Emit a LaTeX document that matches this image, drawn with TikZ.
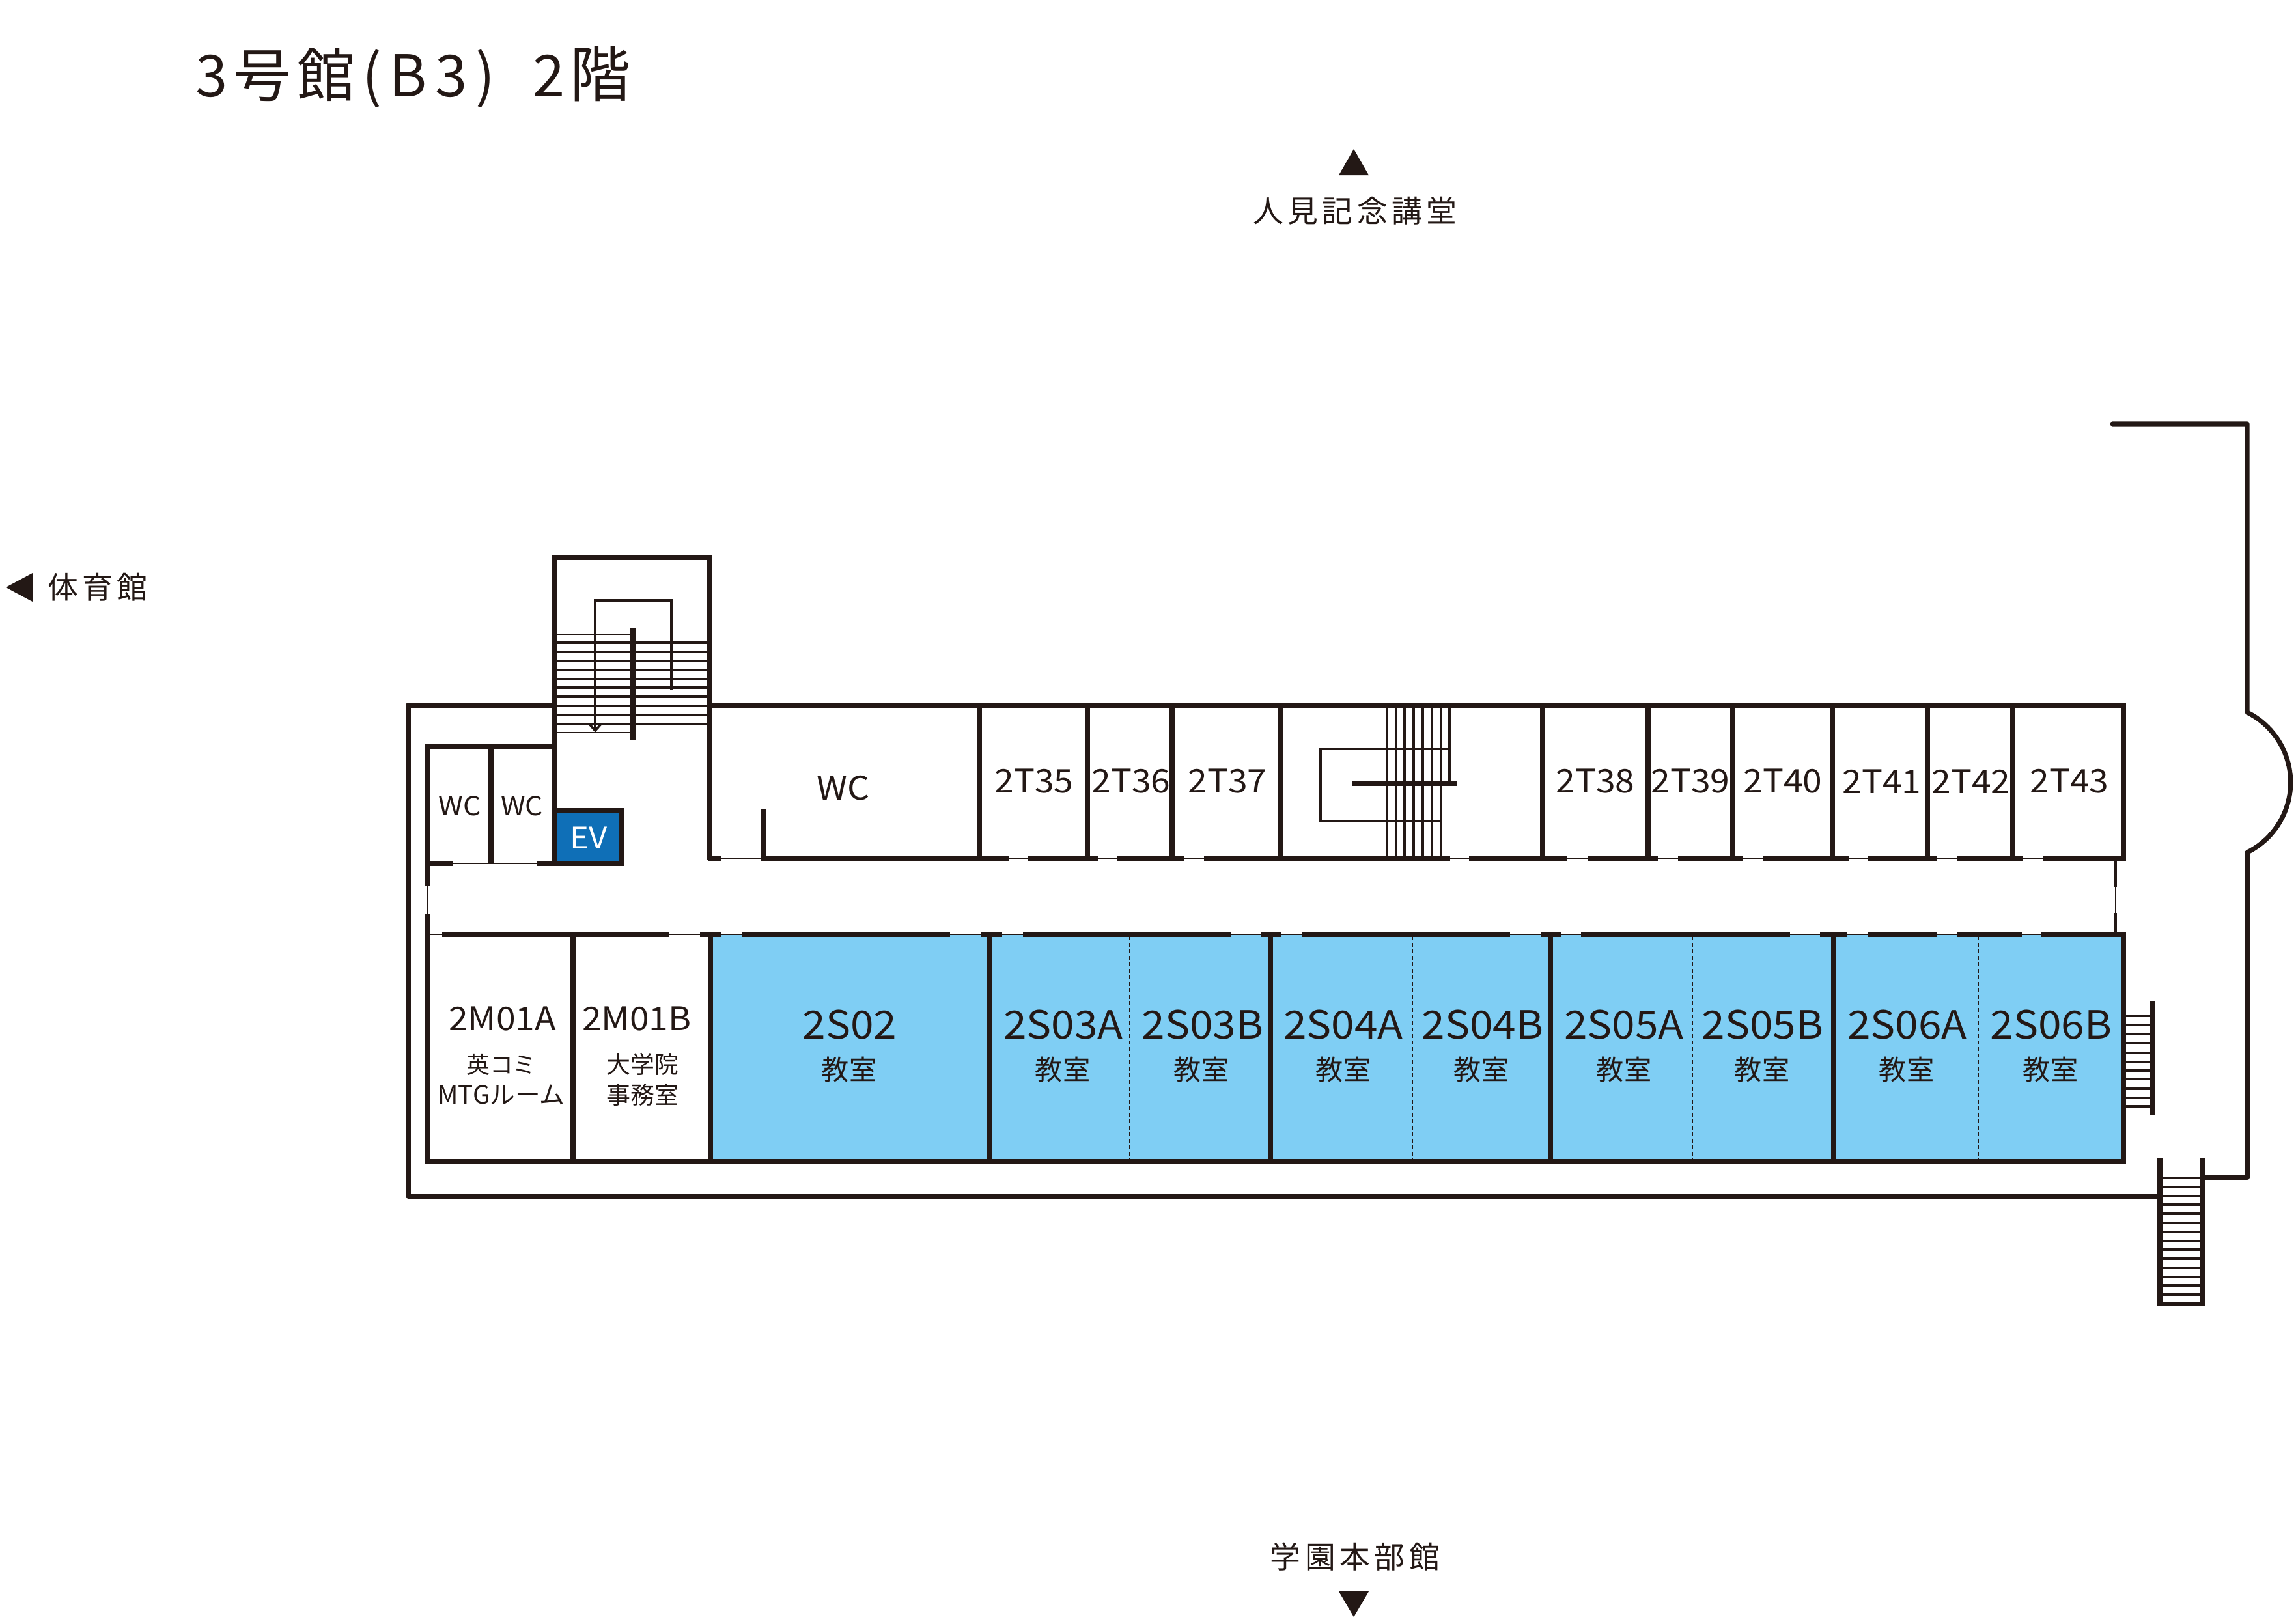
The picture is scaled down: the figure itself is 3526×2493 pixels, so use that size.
\documentclass[tikz,border=0pt]{standalone}
\usepackage{fontspec}
\setmainfont{Noto Sans CJK JP}
\newfontfamily\wideF[FakeStretch=1.07]{Noto Sans CJK JP}
\newfontfamily\titleF[LetterSpace=10]{Noto Sans CJK JP}
\newfontfamily\trackF[LetterSpace=14]{Noto Sans CJK JP}
\definecolor{ink}{HTML}{231815}
\definecolor{room}{HTML}{7FCEF4}
\definecolor{evb}{HTML}{0F6FB7}
\tikzset{
  x=0.01cm,y=-0.01cm,
  wallH/.style={draw=ink,line width=2.25pt},
  wallV/.style={draw=ink,line width=2.05pt},
  thinw/.style={draw=ink,line width=0.7pt},
  tread/.style={draw=ink,line width=1pt},
  treadThin/.style={draw=ink,line width=0.7pt},
  part/.style={draw=ink,line width=0.75pt,dash pattern=on 1.7pt off 1.15pt},
  lab/.style={text=ink,inner sep=0pt,font=\wideF\fontsize{#1}{#1}\selectfont},
  lab/.default=14.2,
  jp/.style={text=ink,inner sep=0pt,font=\fontsize{#1}{#1}\selectfont},
  dest/.style={text=ink,inner sep=0pt,font=\trackF\fontsize{13.3}{14}\selectfont},
  tri/.style={fill=ink,draw=none}
}
\begin{document}
\begin{tikzpicture}
\useasboundingbox (0,0) rectangle (3526,2493);
% blue rooms
\fill[room] (1091,1435) rectangle (3261,1784);
% title and destinations
\node[text=ink,inner sep=0pt,anchor=west,font=\titleF\fontsize{25.2}{26}\selectfont] (title) at (300,119) {3号館\kern3.2pt(\kern3.2pt B\kern3.8pt 3\kern3.6pt)\kern8.2pt{} 2\kern2.2pt {\fontsize{26.5}{26}\selectfont 階}};
\fill[tri] (2079,229) -- (2102,269) -- (2056,269) -- cycle;
\node[dest] (north) at (2081,324) {人見記念講堂};
\fill[tri] (2079,2483) -- (2102,2444) -- (2056,2444) -- cycle;
\node[dest] (south) at (2081,2391) {学園本部館};
\fill[tri] (9,902) -- (50,880) -- (50,924) -- cycle;
\node[dest] (west) at (150,902) {体育館};
% outer wall
\draw[wallV,line join=round] (851,1083) -- (627,1083) -- (627,1837) -- (3317,1837);
\draw[wallH] (1090,1083) -- (3261,1083);
\draw[wallV] (3261,1079) -- (3261,1321);
% right wing
\draw[wallV,line join=round,line cap=round] (3244,651) -- (3451,651) -- (3451,1094)
  .. controls (3491.7,1114.1) and (3517.7,1155.8) .. (3517.7,1201.5)
  .. controls (3517.7,1247.2) and (3491.7,1288.9) .. (3451,1309);
\draw[wallV,line join=round] (3451,1309) -- (3451,1808.7) -- (3382,1808.7);
% stair tower
\foreach \y in {987,1001,1015,1029,1042.5,1056,1070,1084,1097.5}
  \draw[tread] (851,\y) -- (1090,\y);
\draw[treadThin] (851,974) -- (972,974);
\draw[treadThin] (851,1112) -- (1090,1112);
\draw[treadThin] (851,1125) -- (972,1125);
\draw[wallV] (851,1326) -- (851,856) -- (1090,856) -- (1090,1321);
\draw[wallV] (972,964) -- (972,1137);
\draw[treadThin,line width=1pt] (914,1122) -- (914,922) -- (1031,922) -- (1031,1060);
\draw[treadThin,line width=1pt] (905,1112) -- (914,1122) -- (923,1112);
% WC block
\draw[thinw] (657,1326) -- (851,1326);
\draw[wallH] (657,1326) -- (695,1326);
\draw[wallH] (825,1326) -- (851,1326);
\draw[wallV] (657,1361) -- (657,1146) -- (851,1146);
\draw[wallV] (754,1146) -- (754,1326);
\draw[thinw] (657,1361) -- (657,1403);
\draw[wallV] (657,1403) -- (657,1435);
% EV
\draw[wallV,fill=evb,line width=2.2pt] (851,1245) rectangle (954,1326);
% large WC stub
\draw[wallV] (1173,1242) -- (1173,1318);
% corridor north wall
\draw[thinw] (1090,1318) -- (3264,1318);
\foreach \a/\b in {1086.5/1108,1169/1550,1579/1686,1716/1819,1849/2227,2256/2406,2438.5/2546,2577/2676,2708/2840,2869/2974,3005/3106,3137/3264.5}
  \draw[wallH] (\a,1318) -- (\b,1318);
% top-row room walls
\foreach \x in {1504,1670,1800,1966,2369,2531,2661,2814,2960,3091}
  \draw[wallV] (\x,1083) -- (\x,1318);
% centre stair
\foreach \x in {2130,2143.4,2157,2171,2185,2199}
  \draw[tread] (\x,1083) -- (\x,1318);
\draw[tread] (2213,1083) -- (2213,1318);
\draw[tread] (2226,1083) -- (2226,1203);
\draw[treadThin,line width=1pt] (2226,1150) -- (2028,1150) -- (2028,1261) -- (2213,1261);
\draw[wallH] (2076,1203) -- (2237,1203);
% corridor east end
\draw[thinw] (3249,1318) -- (3249,1435);
\draw[draw=ink,line width=1.3pt] (3249,1318) -- (3249,1362);
\draw[draw=ink,line width=1.3pt] (3249,1402) -- (3249,1435);
% corridor south wall
\draw[thinw] (657,1435) -- (3264,1435);
\foreach \a/\b in {679/1027,1075/1108,1139.5/1459,1505.6/1539,1570.5/1890,1936/1968,2000/2319,2366/2397,2428/2749,2795/2837,2869/2975,3006/3105,3135/3264.5}
  \draw[wallH] (\a,1435) -- (\b,1435);
% south rooms
\draw[wallV] (657,1435) -- (657,1787.5);
\draw[wallH] (653.4,1784) -- (3264.6,1784);
\draw[wallV] (3261,1435) -- (3261,1787.5);
\foreach \x in {880,1091,1520,1951,2381.5,2816}
  \draw[wallV] (\x,1435) -- (\x,1784);
\foreach \x in {1735,2169,2599,3038}
  \draw[part] (\x,1438) -- (\x,1781);
% east stair
\foreach \y in {1560,1574,1588,1602,1617,1631,1644,1657,1672,1686,1699}
  \draw[tread] (3264,\y) -- (3306,\y);
\draw[wallV] (3306,1538) -- (3306,1712);
% south stair
\foreach \y in {1809,1823,1837,1850,1864,1878,1892,1906,1919,1933,1947,1961,1974,1988}
  \draw[tread] (3317,\y) -- (3382,\y);
\draw[wallH] (3317,1779) -- (3317,2006);
\draw[wallH] (3382,1779) -- (3382,2006);
\draw[wallH] (3313.5,2002.5) -- (3385.5,2002.5);
% labels
\node[lab=14.2] (wcL) at (1295,1210) {WC};
\node[lab=11.4] (wc1) at (706,1238) {WC};
\node[lab=11.4] (wc2) at (801.5,1238) {WC};
\node[lab=13,text=white] (ev) at (904,1287) {EV};
\foreach \n/\x in {2T35/1588,2T36/1737,2T37/1885,2T38/2450,2T39/2596,2T40/2738,2T41/2890,2T42/3027,2T43/3178}
  \node[lab=14.2] (r\n) at (\x,1200) {\n};
\foreach \n/\x/\z in {2S02/1305/1304,2S03A/1633/1632,2S03B/1847/1845,2S04A/2063/2063,2S04B/2277/2275,2S05A/2494/2494,2S05B/2707/2706,2S06A/2929/2928,2S06B/3150/3149}{
  \node[lab=17] (r\n) at (\x,1574) {\n};
  \node[jp=12] (u\n) at (\z,1643) {教室};
}
\node[lab=14.2] (rA) at (771.5,1564) {2M01A};
\node[lab=14.2] (rB) at (978,1564) {2M01B};
\node[jp=10.2] (uA1) at (770,1635) {英コミ};
\node[jp=11] (uA2) at (770,1681) {MTGルーム};
\node[jp=10.5] (uB1) at (987,1634) {大学院};
\node[jp=10.5] (uB2) at (987,1681) {事務室};
\end{tikzpicture}
\end{document}
